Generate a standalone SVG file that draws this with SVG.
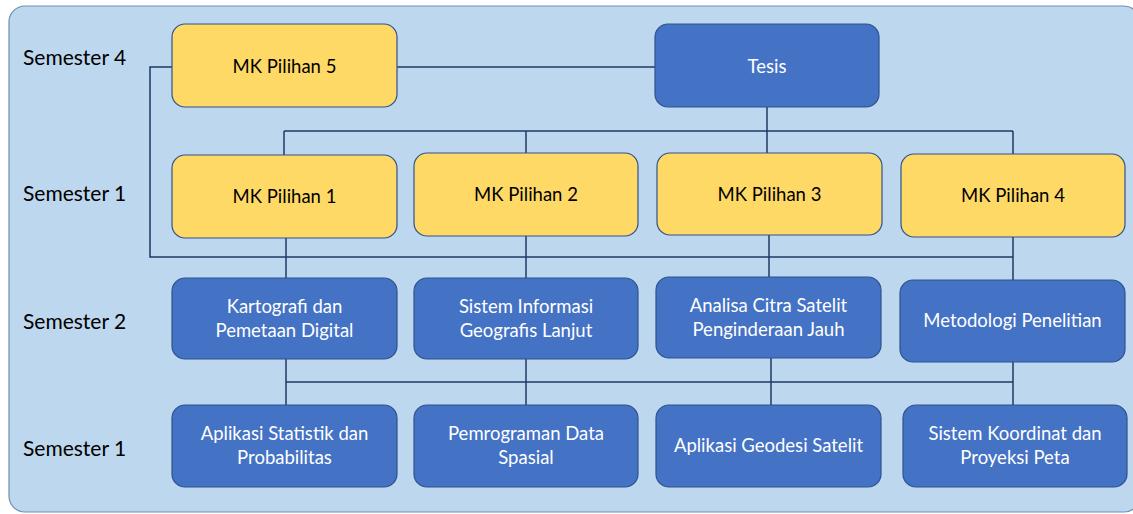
<svg xmlns="http://www.w3.org/2000/svg" width="1133" height="514" viewBox="0 0 1133 514">
  <style>
    .panel { fill: #BDD7EE; stroke: #6F8FAF; stroke-width: 1.2; }
    .yellow { fill: #FFD966; stroke: #2F528F; stroke-width: 1.2; }
    .blue { fill: #4472C4; stroke: #2F528F; stroke-width: 1.2; }
    .lbl { font-family: Lato, "Liberation Sans", sans-serif; font-size: 18.5px; text-anchor: middle; }
    .dark { fill: #000000; }
    .light { fill: #FFFFFF; }
    .sem { font-family: Lato, "Liberation Sans", sans-serif; font-size: 21px; fill: #000000; }
    .wire { fill: none; stroke: #1F3864; stroke-width: 1.5; }
  </style>

  <!-- background panel -->
  <rect class="panel" x="9" y="6" width="1131" height="506" rx="16" ry="16"/>

  <!-- semester labels -->
  <g id="semester-labels">
    <text class="sem" x="23" y="65">Semester 4</text>
    <text class="sem" x="23" y="201">Semester 1</text>
    <text class="sem" x="23" y="329">Semester 2</text>
    <text class="sem" x="23" y="456">Semester 1</text>
  </g>

  <!-- connectors -->
  <g id="connectors">
    <line class="wire" x1="397" y1="67" x2="655" y2="67"/>
    <polyline class="wire" points="172,67 150,67 150,257 1013,257"/>
    <line class="wire" x1="767" y1="107" x2="767" y2="154"/>
    <line class="wire" x1="284" y1="131" x2="1013" y2="131"/>
    <line class="wire" x1="284" y1="131" x2="284" y2="155"/>
    <line class="wire" x1="526" y1="131" x2="526" y2="153"/>
    <line class="wire" x1="1013" y1="131" x2="1013" y2="154"/>
    <line class="wire" x1="286" y1="238" x2="286" y2="278"/>
    <line class="wire" x1="526" y1="236" x2="526" y2="278"/>
    <line class="wire" x1="769" y1="235" x2="769" y2="277"/>
    <line class="wire" x1="1013" y1="237" x2="1013" y2="280"/>
    <line class="wire" x1="286" y1="382" x2="1013" y2="382"/>
    <line class="wire" x1="286" y1="359" x2="286" y2="405"/>
    <line class="wire" x1="526" y1="359" x2="526" y2="405"/>
    <line class="wire" x1="771" y1="358" x2="771" y2="405"/>
    <line class="wire" x1="1013" y1="362" x2="1013" y2="405"/>
  </g>

  <!-- semester 4 -->
  <g id="mk-pilihan-5">
    <rect class="yellow" x="172" y="24" width="225" height="83" rx="13"/>
    <text class="lbl dark" x="284.5" y="73">MK Pilihan 5</text>
  </g>
  <g id="tesis">
    <rect class="blue" x="655" y="24" width="224" height="83" rx="13"/>
    <text class="lbl light" x="767" y="73">Tesis</text>
  </g>

  <!-- elective row -->
  <g id="mk-pilihan-1">
    <rect class="yellow" x="172" y="155" width="225" height="83" rx="13"/>
    <text class="lbl dark" x="284.5" y="203">MK Pilihan 1</text>
  </g>
  <g id="mk-pilihan-2">
    <rect class="yellow" x="414" y="153" width="224" height="83" rx="13"/>
    <text class="lbl dark" x="526" y="201">MK Pilihan 2</text>
  </g>
  <g id="mk-pilihan-3">
    <rect class="yellow" x="657" y="153" width="225" height="82" rx="13"/>
    <text class="lbl dark" x="769.5" y="201">MK Pilihan 3</text>
  </g>
  <g id="mk-pilihan-4">
    <rect class="yellow" x="901" y="154" width="224" height="83" rx="13"/>
    <text class="lbl dark" x="1013" y="202">MK Pilihan 4</text>
  </g>

  <!-- semester 2 -->
  <g id="kartografi">
    <rect class="blue" x="172" y="278" width="225" height="81" rx="13"/>
    <text class="lbl light" x="284.5" y="313">Kartografi dan</text>
    <text class="lbl light" x="284.5" y="337">Pemetaan Digital</text>
  </g>
  <g id="sig-lanjut">
    <rect class="blue" x="414" y="278" width="224" height="81" rx="13"/>
    <text class="lbl light" x="526" y="313">Sistem Informasi</text>
    <text class="lbl light" x="526" y="337">Geografis Lanjut</text>
  </g>
  <g id="analisa-citra">
    <rect class="blue" x="656" y="277" width="225" height="81" rx="13"/>
    <text class="lbl light" x="768.5" y="312">Analisa Citra Satelit</text>
    <text class="lbl light" x="768.5" y="336">Penginderaan Jauh</text>
  </g>
  <g id="metodologi">
    <rect class="blue" x="900" y="280" width="225" height="82" rx="13"/>
    <text class="lbl light" x="1012.5" y="327">Metodologi Penelitian</text>
  </g>

  <!-- semester 1 -->
  <g id="statistik">
    <rect class="blue" x="172" y="405" width="225" height="82" rx="13"/>
    <text class="lbl light" x="284.5" y="440">Aplikasi Statistik dan</text>
    <text class="lbl light" x="284.5" y="464">Probabilitas</text>
  </g>
  <g id="pemrograman">
    <rect class="blue" x="414" y="405" width="224" height="82" rx="13"/>
    <text class="lbl light" x="526" y="440">Pemrograman Data</text>
    <text class="lbl light" x="526" y="464">Spasial</text>
  </g>
  <g id="geodesi">
    <rect class="blue" x="656" y="405" width="225" height="82" rx="13"/>
    <text class="lbl light" x="768.5" y="452">Aplikasi Geodesi Satelit</text>
  </g>
  <g id="koordinat">
    <rect class="blue" x="903" y="405" width="224" height="82" rx="13"/>
    <text class="lbl light" x="1015" y="440">Sistem Koordinat dan</text>
    <text class="lbl light" x="1015" y="464">Proyeksi Peta</text>
  </g>
</svg>
